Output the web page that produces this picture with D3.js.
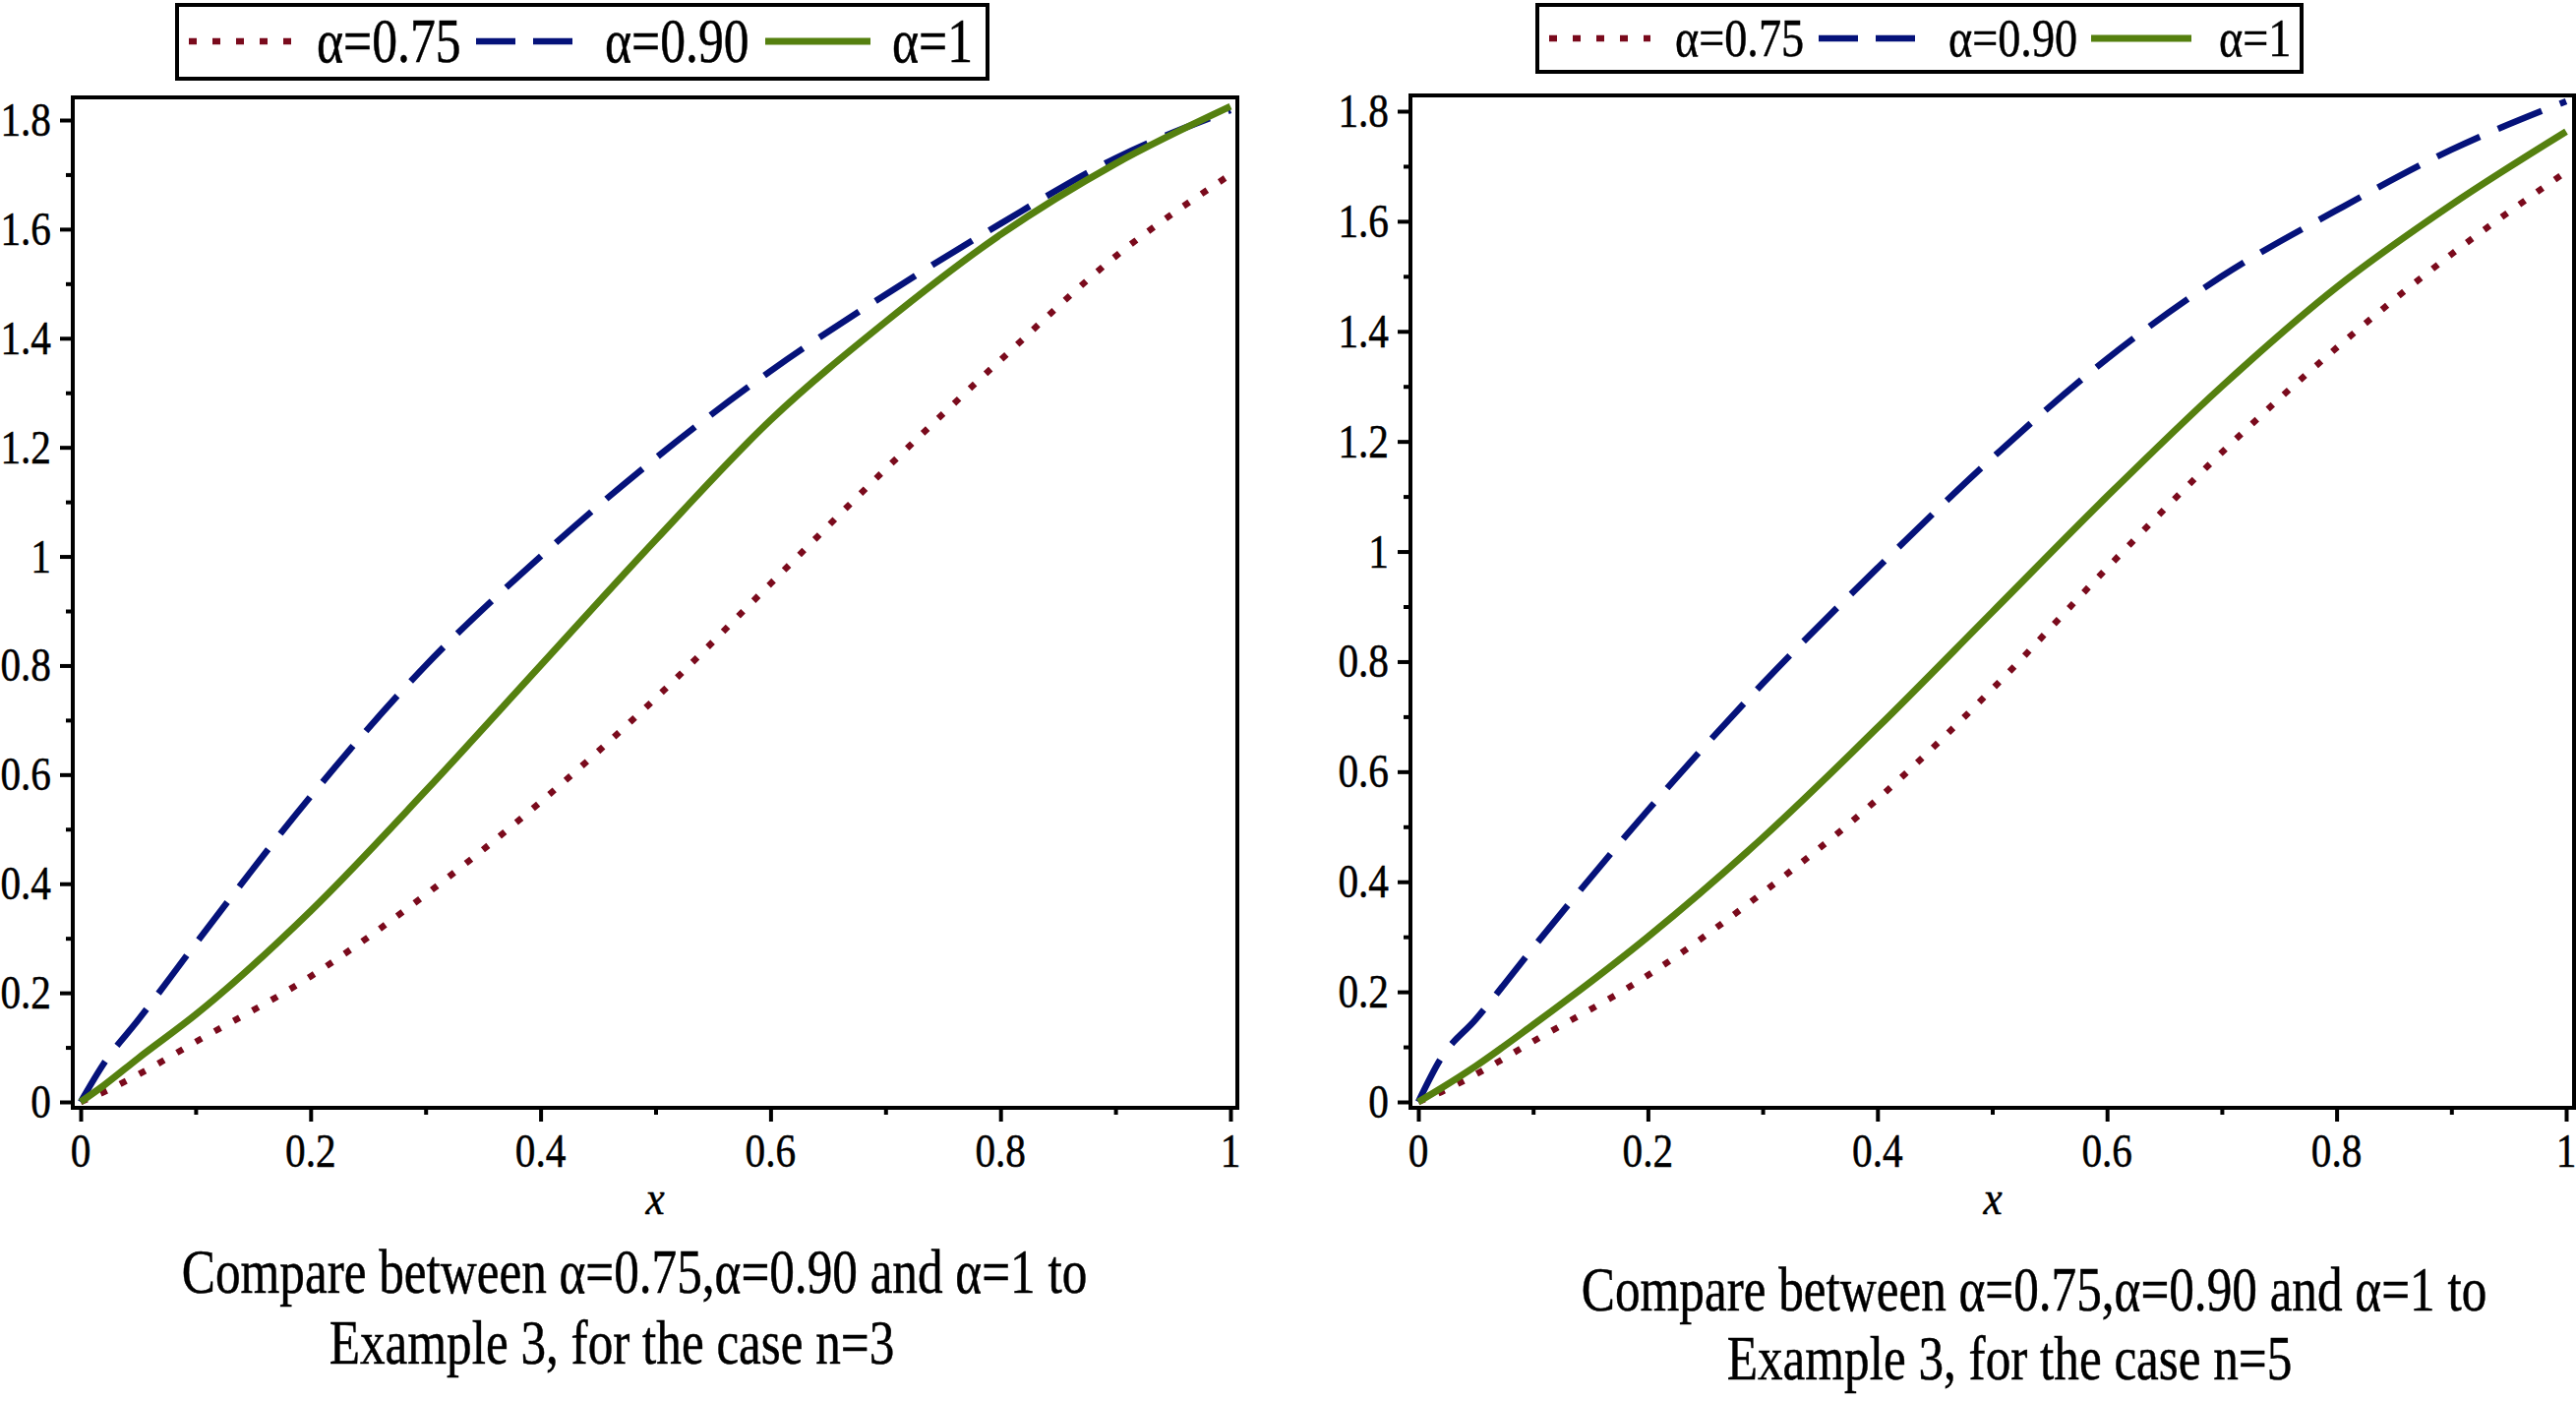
<!DOCTYPE html>
<html><head><meta charset="utf-8">
<script src="https://cdn.jsdelivr.net/npm/d3@7"></script>
<style>body{margin:0;background:#fff;}svg{display:block;}text{font-family:"Liberation Serif","Times New Roman",serif;fill:#000;stroke:#000;stroke-width:0.5px;}</style>
</head><body>
<svg id="c" width="2619" height="1424"></svg>
<script>
// ---- data ----
const xs = [0, 0.02, 0.05, 0.1, 0.2, 0.3, 0.4, 0.5, 0.6, 0.7, 0.8, 0.9, 1.0];
const n3_a075 = [0, 0.018, 0.05, 0.11, 0.23, 0.38, 0.55, 0.74, 0.95, 1.16, 1.36, 1.55, 1.70];
const n3_a090 = [0, 0.07, 0.15, 0.29, 0.56, 0.80, 1.00, 1.18, 1.34, 1.48, 1.61, 1.73, 1.818];
const n3_a1   = [0, 0.03, 0.08, 0.16, 0.35, 0.57, 0.80, 1.03, 1.25, 1.43, 1.59, 1.72, 1.825];
const n5_a075 = [0, 0.018, 0.05, 0.11, 0.23, 0.38, 0.55, 0.75, 0.97, 1.18, 1.37, 1.54, 1.69];
const n5_a090 = [0, 0.08, 0.15, 0.28, 0.53, 0.76, 0.97, 1.17, 1.35, 1.50, 1.62, 1.73, 1.818];
const n5_a1   = [0, 0.025, 0.065, 0.14, 0.30, 0.48, 0.68, 0.89, 1.10, 1.30, 1.48, 1.63, 1.763];
const seriesNames = ["α=0.75", "α=0.90", "α=1"];
const xTicks = [0, 0.2, 0.4, 0.6, 0.8, 1];
const xTickLabels = ["0", "0.2", "0.4", "0.6", "0.8", "1"];
const xMinor = [0.1, 0.3, 0.5, 0.7, 0.9];
const yTicks = [0, 0.2, 0.4, 0.6, 0.8, 1, 1.2, 1.4, 1.6, 1.8];
const yTickLabels = ["0", "0.2", "0.4", "0.6", "0.8", "1", "1.2", "1.4", "1.6", "1.8"];
const yMinor = [0.1, 0.3, 0.5, 0.7, 0.9, 1.1, 1.3, 1.5, 1.7];
const axisLabel = "x";
const captions = [
  ["Compare between α=0.75,α=0.90 and α=1 to", "Example 3, for the case n=3"],
  ["Compare between α=0.75,α=0.90 and α=1 to", "Example 3, for the case n=5"]
];

// ---- styles ----
const colors = ["#7a0a1c", "#05127a", "#55800f"];
const dashes = ["7 15", "48 20", null];
const widths = [6.5, 6.5, 7];

const svg = d3.select("#c");

function txt(parent, x, y, s, size, anchor, sx, italic) {
  const g = parent.append("g").attr("transform", `translate(${x},${y}) scale(${sx},1)`);
  g.append("text").attr("text-anchor", anchor).attr("font-size", size)
    .attr("font-style", italic ? "italic" : "normal").text(s);
  return g;
}

const panels = [
  { data: [n3_a075, n3_a090, n3_a1], xr: [82, 1251], yr: [1120, 122], frame: [74, 99, 1258, 1126],
    legend: { box: [180, 5, 1004, 80], cy: 42, lines: [[192, 301], [484, 593], [778, 885]], tx: [322, 615, 907], fs: 63, sx: 0.82 },
    cap: [[645, 1314], [622, 1386]], xl: 666 },
  { data: [n5_a075, n5_a090, n5_a1], xr: [1442, 2609], yr: [1120, 113], frame: [1434, 97, 2617, 1126],
    legend: { box: [1563, 5, 2340, 73], cy: 39, lines: [[1575, 1678], [1849, 1954], [2126, 2228]], tx: [1703, 1981, 2256], fs: 55, sx: 0.84 },
    cap: [[2068, 1332], [2043, 1402]], xl: 2026 }
];

panels.forEach((p, pi) => {
  const x = d3.scaleLinear().domain([0, 1]).range(p.xr);
  const y = d3.scaleLinear().domain([0, 1.8]).range(p.yr);
  const g = svg.append("g");
  const [fx0, fy0, fx1, fy1] = p.frame;

  // curves
  const line = d3.line().x(d => x(d[0])).y(d => y(d[1])).curve(d3.curveMonotoneX);
  p.data.forEach((vals, si) => {
    const path = g.append("path").datum(xs.map((v, i) => [v, vals[i]]))
      .attr("d", line).attr("fill", "none").attr("stroke", colors[si])
      .attr("stroke-width", widths[si]).attr("stroke-linejoin", "round");
    if (dashes[si]) path.attr("stroke-dasharray", dashes[si]);
  });

  // frame
  g.append("rect").attr("x", fx0).attr("y", fy0).attr("width", fx1 - fx0).attr("height", fy1 - fy0)
    .attr("fill", "none").attr("stroke", "#000").attr("stroke-width", 4);

  // axes ticks
  const xa = g.append("g").attr("transform", `translate(0,${fy1})`)
    .call(d3.axisBottom(x).tickValues(xTicks).tickSize(14).tickFormat(""));
  const xm = g.append("g").attr("transform", `translate(0,${fy1})`)
    .call(d3.axisBottom(x).tickValues(xMinor).tickSize(7).tickFormat(""));
  const ya = g.append("g").attr("transform", `translate(${fx0},0)`)
    .call(d3.axisLeft(y).tickValues(yTicks).tickSize(13).tickFormat(""));
  const ym = g.append("g").attr("transform", `translate(${fx0},0)`)
    .call(d3.axisLeft(y).tickValues(yMinor).tickSize(7).tickFormat(""));
  [xa, xm, ya, ym].forEach(a => {
    a.select(".domain").remove();
    a.selectAll("line").attr("stroke", "#000").attr("stroke-width", 4);
  });

  // tick labels
  xTicks.forEach((v, i) => txt(g, x(v), fy1 + 60, xTickLabels[i], 48, "middle", 0.86));
  yTicks.forEach((v, i) => txt(g, fx0 - 22, y(v) + 16, yTickLabels[i], 48, "end", 0.86));

  // axis label
  txt(g, p.xl, 1234, axisLabel, 48, "middle", 0.9, true);

  // legend
  const L = p.legend;
  g.append("rect").attr("x", L.box[0]).attr("y", L.box[1]).attr("width", L.box[2] - L.box[0])
    .attr("height", L.box[3] - L.box[1]).attr("fill", "#fff").attr("stroke", "#000").attr("stroke-width", 4);
  seriesNames.forEach((nm, si) => {
    const ln = g.append("line").attr("x1", L.lines[si][0]).attr("x2", L.lines[si][1])
      .attr("y1", L.cy).attr("y2", L.cy).attr("stroke", colors[si]).attr("stroke-width", widths[si]);
    if (si === 0) ln.attr("stroke-dasharray", "8 16");
    if (si === 1) ln.attr("stroke-dasharray", "40 18");
    txt(g, L.tx[si], L.cy + L.fs * 0.33, nm, L.fs, "start", L.sx);
  });

  // caption
  captions[pi].forEach((c, ci) => txt(g, p.cap[ci][0], p.cap[ci][1], c, 64, "middle", 0.8));
});
</script>
</body></html>
